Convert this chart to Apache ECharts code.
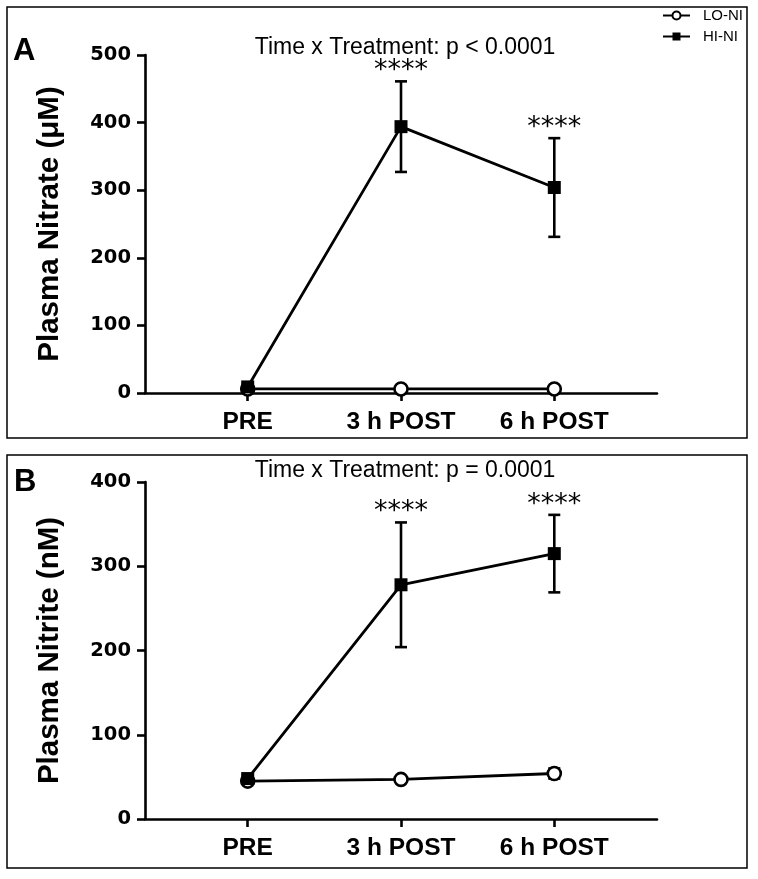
<!DOCTYPE html>
<html><head><meta charset="utf-8">
<script src="https://cdn.jsdelivr.net/npm/echarts@6/dist/echarts.min.js"></script>
<style>html,body{margin:0;padding:0;background:#fff}#c{width:758px;height:879px}</style>
</head><body><div id="c"></div>
<script>
var categories = ['PRE', '3 h POST', '6 h POST'];
var xPos = [0, 1, 2];
// Panel A: Plasma Nitrate (µM)
var loA = [6, 6, 6];
var loA_err = [1, 1, 1];
var hiA = [9, 394, 304];
var hiA_err = [4, 67, 73];
var starsA = ['', '****', '****'];
var yTicksA = [0, 100, 200, 300, 400, 500];
// Panel B: Plasma Nitrite (nM)
var loB = [45, 47, 54];
var loB_err = [3, 3, 6];
var hiB = [48, 278, 315];
var hiB_err = [4, 74, 46];
var starsB = ['', '****', '****'];
var yTicksB = [0, 100, 200, 300, 400];

var FONT = 'Arial, "Liberation Sans", sans-serif';

function pts(vals){ return vals.map(function(v,i){ return [xPos[i], v]; }); }
function errData(vals, errs){ return vals.map(function(v,i){ return [xPos[i], v - errs[i], v + errs[i]]; }); }
function starData(vals, errs, stars){
  var out=[]; vals.forEach(function(v,i){ if(stars[i]) out.push([xPos[i], v+errs[i], stars[i]]); }); return out;
}
function errSeries(data, idx){
  return {type:'custom', xAxisIndex:idx, yAxisIndex:idx, data:data, silent:true, z:1,
    renderItem:function(params, api){
      var lo = api.coord([api.value(0), api.value(1)]);
      var hi = api.coord([api.value(0), api.value(2)]);
      var st = {stroke:'#000', lineWidth:2.6};
      return {type:'group', children:[
        {type:'line', shape:{x1:lo[0],y1:lo[1],x2:hi[0],y2:hi[1]}, style:st},
        {type:'line', shape:{x1:lo[0]-6,y1:lo[1],x2:lo[0]+6,y2:lo[1]}, style:st},
        {type:'line', shape:{x1:hi[0]-6,y1:hi[1],x2:hi[0]+6,y2:hi[1]}, style:st}
      ]};
    }};
}
function starSeries(data, idx){
  return {type:'custom', xAxisIndex:idx, yAxisIndex:idx, data:data, silent:true, z:5,
    renderItem:function(params, api){
      var p = api.coord([api.value(0), api.value(1)]);
      return {type:'text', x:p[0], y:p[1]-10, style:{text:data[params.dataIndex][2], fill:'#000',
        font:'27px "DejaVu Sans", sans-serif', textAlign:'center', textVerticalAlign:'middle'}};
    }};
}
function xAxis(idx){
  return {type:'value', gridIndex:idx, min:-0.67, max:2.67,
    axisLine:{show:true, onZero:false, lineStyle:{color:'#000', width:2.6}},
    axisTick:{show:true, customValues:xPos, length:8, lineStyle:{color:'#000', width:2.6}},
    axisLabel:{show:true, customValues:xPos, margin:17, color:'#000', fontFamily:FONT, fontWeight:'bold', fontSize:24.5,
      formatter:function(v){ return categories[Math.round(v)]; }},
    splitLine:{show:false}};
}
function yAxis(idx, ticks, name){
  return {type:'value', gridIndex:idx, min:0, max:ticks[ticks.length-1], interval:ticks[1]-ticks[0],
    name:name, nameLocation:'middle', nameGap:80, nameRotate:90,
    nameTextStyle:{color:'#000', fontFamily:FONT, fontWeight:'bold', fontSize:29.5},
    axisLine:{show:true, onZero:false, lineStyle:{color:'#000', width:2.6}},
    axisTick:{show:true, length:8, lineStyle:{color:'#000', width:2.6}},
    axisLabel:{color:'#000', fontFamily:'"DejaVu Sans", sans-serif', fontWeight:'bold', fontSize:19.5, margin:14},
    splitLine:{show:false}};
}
function lineSeries(name, vals, idx, symbol){
  var filled = symbol === 'rect';
  return {type:'line', name:name, xAxisIndex:idx, yAxisIndex:idx, data:pts(vals), z: filled ? 4 : 3,
    symbol:symbol, symbolSize:13, showAllSymbol:true,
    lineStyle:{color:'#000', width:2.8},
    itemStyle:{color: filled ? '#000' : '#fff', borderColor:'#000', borderWidth: filled ? 0 : 2.6},
    emphasis:{disabled:true}, animation:false};
}

var chart = echarts.init(document.getElementById('c'), null, {renderer:'canvas'});
chart.setOption({
  animation:false,
  backgroundColor:'#fff',
  title:[
    {text:'Time x Treatment: p < 0.0001', left:400, top:31, textAlign:'center',
      textStyle:{color:'#000', fontFamily:FONT, fontWeight:'normal', fontSize:23}},
    {text:'Time x Treatment: p = 0.0001', left:400, top:454, textAlign:'center',
      textStyle:{color:'#000', fontFamily:FONT, fontWeight:'normal', fontSize:23}},
    {text:'A', left:8, top:31, textStyle:{color:'#000', fontFamily:FONT, fontWeight:'bold', fontSize:31}},
    {text:'B', left:9, top:462, textStyle:{color:'#000', fontFamily:FONT, fontWeight:'bold', fontSize:31}}
  ],
  legend:{data:['LO-NI','HI-NI'], orient:'vertical', right:10, top:3, itemWidth:27, itemHeight:10, itemGap:6,
    textStyle:{color:'#000', fontFamily:FONT, fontSize:15, padding:[0,0,0,8]}},
  graphic:[
    {type:'rect', shape:{x:7, y:7, width:740, height:431}, style:{fill:'none', stroke:'#000', lineWidth:1.5}, silent:true},
    {type:'rect', shape:{x:7, y:455, width:740, height:413}, style:{fill:'none', stroke:'#000', lineWidth:1.5}, silent:true}
  ],
  grid:[
    {left:145, right:101, top:55, bottom:486},
    {left:145, right:101, top:482, bottom:60}
  ],
  xAxis:[xAxis(0), xAxis(1)],
  yAxis:[yAxis(0, yTicksA, 'Plasma Nitrate (\u03bcM)'), yAxis(1, yTicksB, 'Plasma Nitrite (nM)')],
  series:[
    errSeries(errData(hiA, hiA_err), 0),
    errSeries(errData(loA, loA_err), 0),
    lineSeries('HI-NI', hiA, 0, 'rect'),
    lineSeries('LO-NI', loA, 0, 'circle'),
    starSeries(starData(hiA, hiA_err, starsA), 0),
    errSeries(errData(hiB, hiB_err), 1),
    errSeries(errData(loB, loB_err), 1),
    lineSeries('HI-NI', hiB, 1, 'rect'),
    lineSeries('LO-NI', loB, 1, 'circle'),
    starSeries(starData(hiB, hiB_err, starsB), 1)
  ]
});
</script></body></html>
